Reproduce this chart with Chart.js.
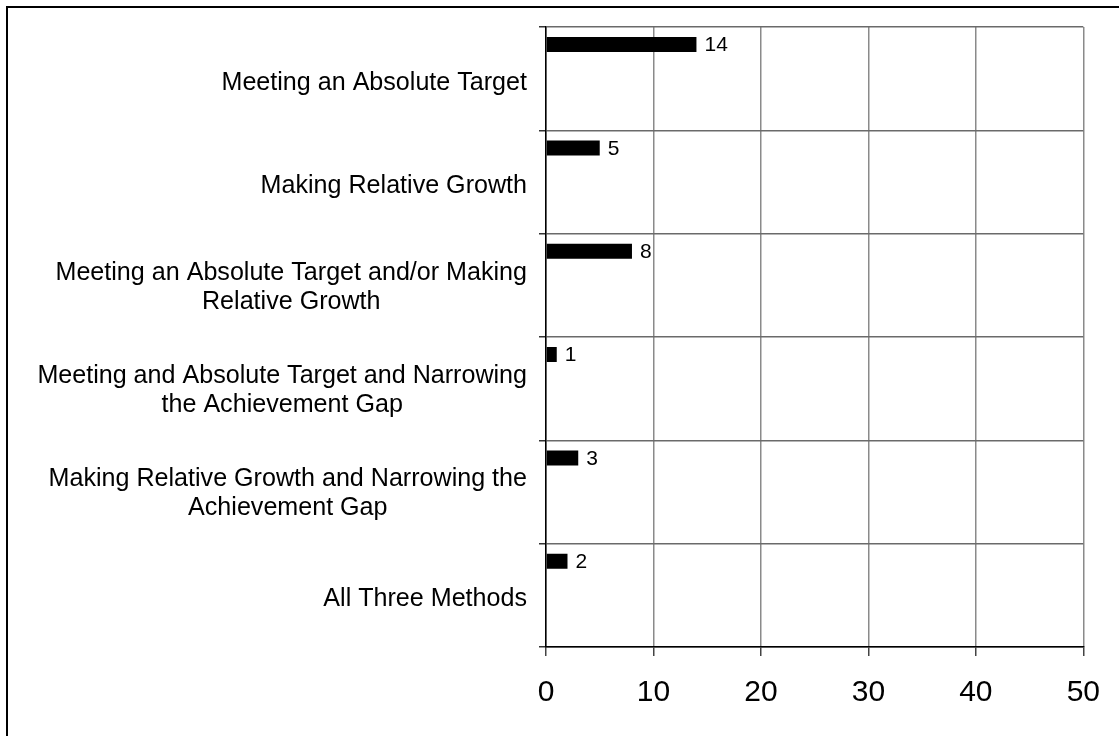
<!DOCTYPE html>
<html>
<head>
<meta charset="utf-8">
<script src="https://cdn.jsdelivr.net/npm/chart.js@4/dist/chart.umd.min.js"></script>
<style>
  html, body { margin: 0; padding: 0; background: #fff; }
  #wrap { width: 1119px; height: 736px; position: relative; }
</style>
</head>
<body>
<div id="wrap"><canvas id="c" width="1119" height="736"></canvas></div>
<script>
const categories = [
  "Meeting an Absolute Target",
  "Making Relative Growth",
  ["Meeting an Absolute Target and/or Making", "Relative Growth"],
  ["Meeting and Absolute Target and Narrowing", "the Achievement Gap"],
  ["Making Relative Growth and Narrowing the", "Achievement Gap"],
  "All Three Methods"
];
const counts = [14, 5, 8, 1, 3, 2];
const emptySeries = [null, null, null, null, null, null];
const xTicks = [0, 10, 20, 30, 40, 50];

const FONT = '"Liberation Sans", Arial, Helvetica, sans-serif';

const framePlugin = {
  id: 'frame',
  afterDraw(chart) {
    const ctx = chart.ctx;
    ctx.save();
    ctx.strokeStyle = '#000';
    ctx.lineWidth = 2;
    ctx.beginPath();
    ctx.moveTo(6, 7); ctx.lineTo(1119, 7);
    ctx.moveTo(7, 6); ctx.lineTo(7, 736);
    ctx.stroke();
    ctx.restore();
  }
};

const catLabelPlugin = {
  id: 'catLabels',
  afterDraw(chart) {
    const ctx = chart.ctx;
    const y = chart.scales.y;
    ctx.save();
    ctx.font = '25.1px ' + FONT;
    ctx.fillStyle = '#000';
    ctx.textAlign = 'center';
    ctx.textBaseline = 'middle';
    const right = chart.chartArea.left - 19;
    const lh = 29;
    categories.forEach((lab, i) => {
      const lines = Array.isArray(lab) ? lab : [lab];
      const w = Math.max(...lines.map(l => ctx.measureText(l).width));
      const cx = right - w / 2;
      const cy = y.getPixelForValue(i) + (lines.length === 1 ? 4 : 2);
      const top = cy - (lines.length - 1) * lh / 2;
      lines.forEach((l, k) => ctx.fillText(l, cx, top + k * lh));
    });
    ctx.restore();
  }
};

const valueLabelPlugin = {
  id: 'valueLabels',
  afterDatasetsDraw(chart) {
    const ctx = chart.ctx;
    const meta = chart.getDatasetMeta(0);
    ctx.save();
    ctx.font = '21px ' + FONT;
    ctx.fillStyle = '#000';
    ctx.textAlign = 'left';
    ctx.textBaseline = 'middle';
    meta.data.forEach((bar, i) => {
      ctx.fillText(String(counts[i]), bar.x + 8, bar.y + 1);
    });
    ctx.restore();
  }
};

new Chart(document.getElementById('c'), {
  type: 'bar',
  data: {
    labels: categories,
    datasets: [
      { data: counts, backgroundColor: '#000', borderWidth: 0 },
      { data: emptySeries, backgroundColor: '#000' },
      { data: emptySeries, backgroundColor: '#000' }
    ]
  },
  options: {
    indexAxis: 'y',
    responsive: false,
    animation: false,
    events: [],
    categoryPercentage: 0.99,
    barPercentage: 0.44,
    layout: { padding: { left: 0, top: 27, right: 33, bottom: 0 } },
    plugins: { legend: { display: false }, tooltip: { enabled: false } },
    scales: {
      x: {
        min: 0, max: 50,
        afterBuildTicks(scale) { scale.ticks = xTicks.map(v => ({ value: v })); },
        afterFit(scale) { scale.height = 89; },
        grid: { color: '#8a8a8a', lineWidth: 1.5, drawTicks: true, tickLength: 9, tickColor: '#444' },
        border: { display: true, color: '#000', width: 1.5 },
        ticks: { color: '#000', font: { family: FONT, size: 30 }, padding: 19, maxRotation: 0 }
      },
      y: {
        afterFit(scale) { scale.width = 546; },
        grid: { color: '#6a6a6a', lineWidth: 1.5, offset: true, drawTicks: true, tickLength: 7, tickColor: '#333' },
        border: { display: true, color: '#000', width: 1.5 },
        ticks: { display: false }
      }
    }
  },
  plugins: [framePlugin, catLabelPlugin, valueLabelPlugin]
});
</script>
</body>
</html>
